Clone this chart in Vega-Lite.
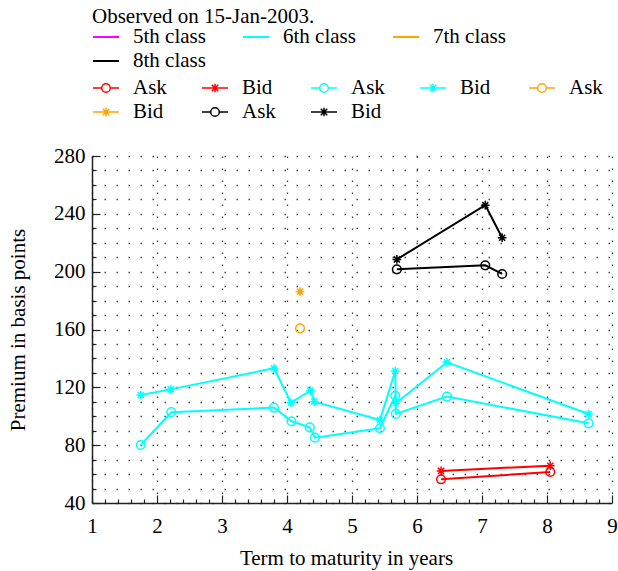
{
  "$schema": "https://vega.github.io/schema/vega-lite/v6.json",
  "width": 520,
  "height": 347,
  "autosize": {"type": "none"},
  "padding": {"left": 92, "top": 156, "right": 6, "bottom": 68},
  "config": {
    "font": "Liberation Serif",
    "view": {"stroke": null},
    "axis": {"labelFont": "Liberation Serif", "titleFont": "Liberation Serif", "labelColor": "#000", "titleColor": "#000", "labelFontSize": 21, "titleFontSize": 21, "titleFontWeight": "normal"},
    "legend": {"labelFont": "Liberation Serif", "titleFont": "Liberation Serif", "labelColor": "#000", "titleColor": "#000", "labelFontSize": 21, "titleFontSize": 21, "titleFontWeight": "normal", "labelLimit": 300, "titleLimit": 400}
  },
  "data": {
    "values": [
      {"s": "1 Ask", "t": 6.37, "p": 56.4},
      {"s": "1 Ask", "t": 8.05, "p": 61.5},
      {"s": "1 Bid", "t": 6.37, "p": 62.2},
      {"s": "1 Bid", "t": 8.05, "p": 65.8},
      {"s": "2 Ask", "t": 1.75, "p": 80.1},
      {"s": "2 Ask", "t": 2.22, "p": 102.8},
      {"s": "2 Ask", "t": 3.80, "p": 106.0},
      {"s": "2 Ask", "t": 4.07, "p": 96.5},
      {"s": "2 Ask", "t": 4.35, "p": 92.3},
      {"s": "2 Ask", "t": 4.43, "p": 85.2},
      {"s": "2 Ask", "t": 5.43, "p": 91.7},
      {"s": "2 Ask", "t": 5.665, "p": 114.2},
      {"s": "2 Ask", "t": 5.675, "p": 101.6},
      {"s": "2 Ask", "t": 6.46, "p": 113.6},
      {"s": "2 Ask", "t": 8.64, "p": 95.1},
      {"s": "2 Bid", "t": 1.75, "p": 114.7},
      {"s": "2 Bid", "t": 2.21, "p": 118.6},
      {"s": "2 Bid", "t": 3.80, "p": 133.2},
      {"s": "2 Bid", "t": 4.06, "p": 109.4},
      {"s": "2 Bid", "t": 4.36, "p": 117.7},
      {"s": "2 Bid", "t": 4.42, "p": 110.1},
      {"s": "2 Bid", "t": 5.43, "p": 97.4},
      {"s": "2 Bid", "t": 5.665, "p": 131.3},
      {"s": "2 Bid", "t": 5.675, "p": 109.0},
      {"s": "2 Bid", "t": 6.46, "p": 137.3},
      {"s": "2 Bid", "t": 8.64, "p": 101.6},
      {"s": "3 Ask", "t": 4.20, "p": 160.8},
      {"s": "3 Bid", "t": 4.20, "p": 186.2},
      {"s": "4 Ask", "t": 5.69, "p": 201.6},
      {"s": "4 Ask", "t": 7.05, "p": 204.4},
      {"s": "4 Ask", "t": 7.31, "p": 198.4},
      {"s": "4 Bid", "t": 5.69, "p": 208.5},
      {"s": "4 Bid", "t": 7.05, "p": 246.0},
      {"s": "4 Bid", "t": 7.31, "p": 223.5}
    ]
  },
  "encoding": {
    "x": {
      "field": "t", "type": "quantitative",
      "scale": {"domain": [1, 9], "nice": false, "zero": false},
      "axis": {
        "values": [1, 1.2, 1.4, 1.6, 1.8, 2, 2.2, 2.4, 2.6, 2.8, 3, 3.2, 3.4, 3.6, 3.8, 4, 4.2, 4.4, 4.6, 4.8, 5, 5.2, 5.4, 5.6, 5.8, 6, 6.2, 6.4, 6.6, 6.8, 7, 7.2, 7.4, 7.6, 7.8, 8, 8.2, 8.4, 8.6, 8.8, 9],
        "labelExpr": "abs(datum.value - round(datum.value)) < 0.001 ? format(datum.value, 'd') : ''",
        "labelOverlap": false,
        "labelFlush": false,
        "labelPadding": 20,
        "tickSize": {"condition": {"test": "abs(datum.value - round(datum.value)) < 0.001", "value": -8}, "value": -4},
        "tickColor": "#222",
        "tickWidth": 1.2,
        "domainColor": "#222",
        "domainWidth": 1.5,
        "grid": true,
        "gridOpacity": {"condition": {"test": "abs(datum.value - round(datum.value)) < 0.001", "value": 1}, "value": 0},
        "gridDash": [1.5, 10.5],
        "gridColor": "#444",
        "gridWidth": 1.3,
        "title": "Term to maturity in years",
        "titleX": 254,
        "titleY": 61,
        "titleBaseline": "alphabetic",
        "titleAlign": "center"
      }
    },
    "y": {
      "field": "p", "type": "quantitative",
      "scale": {"domain": [40, 280], "nice": false, "zero": false},
      "axis": {
        "values": [40, 50, 60, 70, 80, 90, 100, 110, 120, 130, 140, 150, 160, 170, 180, 190, 200, 210, 220, 230, 240, 250, 260, 270, 280],
        "labelExpr": "datum.value % 40 == 0 ? datum.label : ''",
        "labelOverlap": false,
        "labelFlush": false,
        "labelPadding": 15,
        "tickSize": {"condition": {"test": "datum.value % 40 == 0", "value": -8}, "value": -4},
        "tickColor": "#222",
        "tickWidth": 1.2,
        "domainColor": "#222",
        "domainWidth": 1.5,
        "grid": true,
        "gridDash": [1.5, 10.5],
        "gridDashOffset": -12,
        "gridColor": "#444",
        "gridWidth": 1.3,
        "title": "Premium in basis points",
        "titleX": -74,
        "titleY": 173.5,
        "titleAngle": -90,
        "titleAlign": "center",
        "titleBaseline": "middle"
      }
    }
  },
  "layer": [
    {
      "mark": {"type": "line", "strokeWidth": 2},
      "encoding": {
        "stroke": {
          "field": "s", "type": "nominal",
          "scale": {"domain": ["1 Ask", "1 Bid", "2 Ask", "2 Bid", "3 Ask", "3 Bid", "4 Ask", "4 Bid"], "range": ["#ff0000", "#ff0000", "#00ffff", "#00ffff", "#ffa500", "#ffa500", "#000000", "#000000"]}
        }
      }
    },
    {
      "transform": [{"filter": "indexof(datum.s, 'Ask') >= 0"}],
      "mark": {"type": "point", "shape": "circle", "filled": false, "size": 75, "strokeWidth": 1.5, "opacity": 1},
      "encoding": {
        "stroke": {"field": "s", "type": "nominal"}
      }
    },
    {
      "transform": [{"filter": "indexof(datum.s, 'Bid') >= 0"}],
      "mark": {"type": "point", "shape": "M-1,0H1M0,-1V1M-0.7,-0.7L0.7,0.7M-0.7,0.7L0.7,-0.7", "filled": false, "size": 75, "strokeWidth": 1.5, "opacity": 1},
      "encoding": {
        "stroke": {"field": "s", "type": "nominal"}
      }
    },
    {
      "data": {"values": [{"s": "1 Ask"}]},
      "mark": {"type": "point", "filled": false, "strokeWidth": 1.5, "opacity": 1},
      "encoding": {
        "stroke": {
          "field": "s", "type": "nominal",
          "legend": {
            "orient": "none", "legendX": 0, "legendY": -82,
            "title": null,
            "direction": "horizontal", "columns": 5, "gridAlign": "all",
            "columnPadding": 32, "rowPadding": -8, "labelOffset": 13,
            "symbolSize": 676, "symbolStrokeWidth": 1.5,
            "labelExpr": "substring(datum.label, 2)"
          }
        },
        "shape": {
          "field": "s", "type": "nominal",
          "scale": {"domain": ["1 Ask", "1 Bid", "2 Ask", "2 Bid", "3 Ask", "3 Bid", "4 Ask", "4 Bid"], "range": [
            "M-1,0H-0.33M0.33,0H1M0.33,0A0.33,0.33 0 1 1 -0.33,0A0.33,0.33 0 1 1 0.33,0",
            "M-1,0H1M0,-0.33V0.33M-0.25,-0.25L0.25,0.25M-0.25,0.25L0.25,-0.25",
            "M-1,0H-0.33M0.33,0H1M0.33,0A0.33,0.33 0 1 1 -0.33,0A0.33,0.33 0 1 1 0.33,0",
            "M-1,0H1M0,-0.33V0.33M-0.25,-0.25L0.25,0.25M-0.25,0.25L0.25,-0.25",
            "M-1,0H-0.33M0.33,0H1M0.33,0A0.33,0.33 0 1 1 -0.33,0A0.33,0.33 0 1 1 0.33,0",
            "M-1,0H1M0,-0.33V0.33M-0.25,-0.25L0.25,0.25M-0.25,0.25L0.25,-0.25",
            "M-1,0H-0.33M0.33,0H1M0.33,0A0.33,0.33 0 1 1 -0.33,0A0.33,0.33 0 1 1 0.33,0",
            "M-1,0H1M0,-0.33V0.33M-0.25,-0.25L0.25,0.25M-0.25,0.25L0.25,-0.25"
          ]},
          "legend": {
            "orient": "none", "legendX": 0, "legendY": -82,
            "title": null,
            "direction": "horizontal", "columns": 5, "gridAlign": "all",
            "columnPadding": 32, "rowPadding": -8, "labelOffset": 13,
            "symbolSize": 676, "symbolStrokeWidth": 1.5,
            "labelExpr": "substring(datum.label, 2)"
          }
        }
      }
    },
    {
      "data": {"values": [{"class": "5th class"}]},
      "mark": {"type": "line", "strokeWidth": 2},
      "encoding": {
        "color": {
          "field": "class", "type": "nominal",
          "scale": {"domain": ["5th class", "6th class", "7th class", "8th class"], "range": ["#ff00ff", "#00ffff", "#ffa500", "#000000"]},
          "legend": {
            "orient": "none", "legendX": 0, "legendY": -150,
            "title": "Observed on 15-Jan-2003.",
            "titlePadding": -4,
            "direction": "horizontal", "columns": 3, "gridAlign": "all",
            "columnPadding": 33, "rowPadding": -10, "labelOffset": 13,
            "symbolType": "stroke", "symbolSize": 676, "symbolStrokeWidth": 2
          }
        }
      }
    }
  ]
}
